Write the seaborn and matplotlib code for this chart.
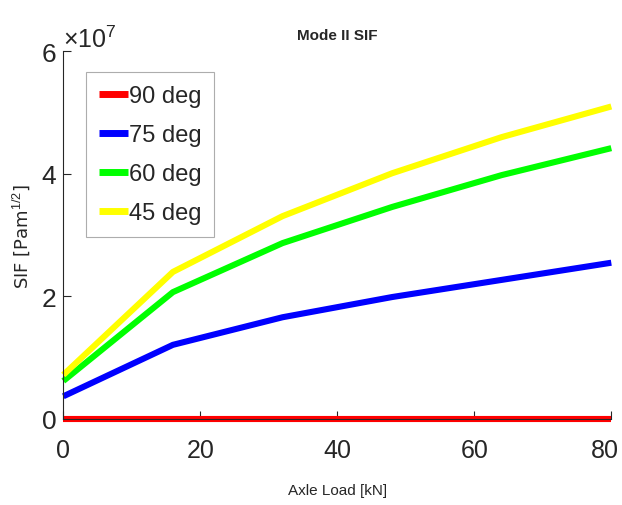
import numpy as np
import pandas as pd
import matplotlib
matplotlib.use("Agg")
import matplotlib.pyplot as plt
import matplotlib.transforms as mtransforms
import seaborn as sns
from matplotlib.ticker import ScalarFormatter

load_kn = [0, 16, 32, 48, 64, 80]
sif_90 = [0.0, 0.0, 0.0, 0.0, 0.0, 0.0]
sif_75 = [0.37e7, 1.21e7, 1.66e7, 1.99e7, 2.27e7, 2.55e7]
sif_60 = [0.62e7, 2.07e7, 2.87e7, 3.46e7, 3.98e7, 4.42e7]
sif_45 = [0.72e7, 2.40e7, 3.31e7, 4.01e7, 4.60e7, 5.10e7]
series_names = ["90 deg", "75 deg", "60 deg", "45 deg"]
series_colors = ["#ff0000", "#0000ff", "#00ff00", "#ffff00"]

frames = []
for name, vals in zip(series_names, [sif_90, sif_75, sif_60, sif_45]):
    frames.append(pd.DataFrame({"load": load_kn, "sif": vals, "angle": name}))
df = pd.concat(frames, ignore_index=True)

sns.set_theme(style="white")
plt.rcParams["font.family"] = ["Liberation Sans", "DejaVu Sans"]
plt.rcParams["mathtext.fontset"] = "custom"
plt.rcParams["mathtext.rm"] = "Liberation Sans"
plt.rcParams["mathtext.it"] = "Liberation Sans"

fig = plt.figure(figsize=(6.22, 5.06), dpi=100)
ax = fig.add_axes([0.1018, 0.170, 0.881, 0.7266])

sns.lineplot(data=df, x="load", y="sif", hue="angle", hue_order=series_names,
             palette=series_colors, linewidth=4.4, ax=ax, legend=True)
for ln in ax.get_lines():
    ln.set_clip_on(False)
    ln.set_solid_capstyle("butt")

ax.set_xlim(0, 80)
ax.set_ylim(0, 6e7)
ax.set_xticks([0, 20, 40, 60, 80])
ax.set_yticks([0, 2e7, 4e7, 6e7])
fmt = ScalarFormatter(useMathText=True)
fmt.set_powerlimits((0, 0))
ax.yaxis.set_major_formatter(fmt)
ax.yaxis.get_offset_text().set_fontsize(18)
ax.yaxis.get_offset_text().set_color("#262626")
ax.tick_params(axis="both", direction="in", length=6, width=0.8, labelsize=19,
               left=True, bottom=True, colors="#262626")
ax.tick_params(axis="x", pad=14, labelsize=18)
ax.tick_params(axis="y", pad=5)
for s in ["top", "right"]:
    ax.spines[s].set_visible(False)
for s in ["left", "bottom"]:
    ax.spines[s].set_color("#262626")
    ax.spines[s].set_linewidth(0.8)

ax.set_xlabel("Axle Load [kN]", fontsize=11, color="#262626", labelpad=15)
ax.set_ylabel("SIF [Pam$^{1/2}$]", fontsize=13, color="#262626",
              family="DejaVu Sans", labelpad=6)
ax.set_title("Mode II SIF", fontsize=11, fontweight="bold", pad=9)

leg = ax.legend(loc="upper left", bbox_to_anchor=(0.042, 0.943), fontsize=17,
                frameon=True, fancybox=False, handlelength=1.2, handletextpad=0.05,
                borderpad=0.55, labelspacing=0.72, borderaxespad=0)
leg.get_frame().set_edgecolor("#999999")
leg.get_frame().set_linewidth(0.8)
for h in leg.get_lines():
    h.set_linewidth(5)

fig.canvas.draw()
last = ax.xaxis.get_major_ticks()[-1].label1
last.set_transform(last.get_transform() +
                   mtransforms.ScaledTranslation(-6 / 100, 0, fig.dpi_scale_trans))

fig.savefig("out.png", dpi=100)
